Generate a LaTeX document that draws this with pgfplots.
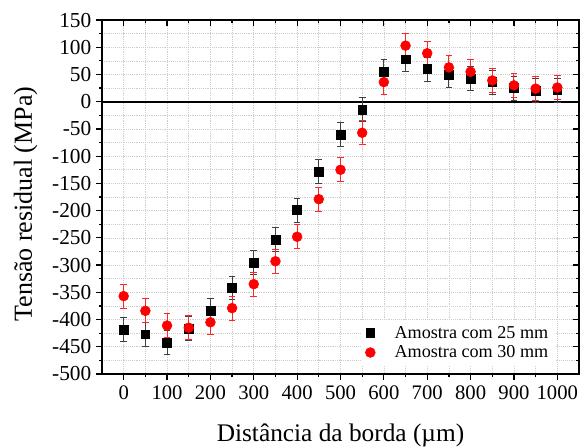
\documentclass[border=0pt]{standalone}
\usepackage{fontspec}
\setmainfont{Liberation Serif}
\usepackage{pgfplots}
\pgfplotsset{compat=1.18}
\definecolor{gridgray}{RGB}{205,205,205}

\pgfplotsset{
  common/.style={
    at={(0,0)}, anchor=south west,
    scale only axis,
    width=357.75pt, height=265.5pt,
    xmin=-50, xmax=1050, ymin=-500, ymax=150,
    xtick={0,100,...,1000}, ytick={-500,-450,...,150},
    minor x tick num=1, minor y tick num=1,
    major tick length=4.5pt, minor tick length=2.5pt,
    axis line style={black, line width=0.9pt},
    every tick/.style={black, line width=0.9pt},
  }
}

\begin{document}
\begin{tikzpicture}
\useasboundingbox (-76.5pt,-54.75pt) rectangle (362.25pt,280.5pt);
\begin{axis}[common,
  tick align=outside,
  xtick pos=bottom, ytick pos=left,
  grid=both,
  major grid style={gridgray, densely dotted, line width=0.5pt},
  minor grid style={gridgray, densely dotted, line width=0.5pt},
  /pgf/number format/assume math mode=true,
  /pgf/number format/1000 sep={},
  yticklabel style={font=\fontsize{16pt}{17pt}\selectfont, xshift=0pt},
  xticklabel style={font=\fontsize{15.5pt}{17pt}\selectfont, yshift=-1pt},
  xlabel={Distância da borda (µm)},
  ylabel={Tensão residual (MPa)},
  xlabel style={font=\fontsize{19pt}{21pt}\selectfont,
    at={(axis description cs:0.5,-0.192)}, anchor=base},
  ylabel style={font=\fontsize{19.5pt}{21pt}\selectfont,
    at={(axis description cs:-0.16,0.48)}, anchor=center, rotate=0},
  legend style={at={(axis description cs:0.95,0.151)}, anchor=north east,
    draw=none, fill=white,
    font=\fontsize{13.6pt}{16pt}\selectfont, row sep=0pt,
    inner xsep=3pt, inner ysep=2pt},
  legend cell align=left,
]
\addplot[black, line width=1.2pt, forget plot] coordinates {(-50,0) (1050,0)};

\addplot[only marks, mark=square*, mark size=3.3pt, black,
  error bars/.cd, y dir=both, y explicit,
  error bar style={black!75, line width=0.7pt},
  error mark options={rotate=90, mark size=2.5pt, black!75, line width=0.7pt}]
  coordinates {
  (0,-419) +- (0,22)
  (50,-427) +- (0,22)
  (100,-442) +- (0,22)
  (150,-417) +- (0,22)
  (200,-384) +- (0,22)
  (250,-342) +- (0,22)
  (300,-296) +- (0,22)
  (350,-253) +- (0,22)
  (400,-199) +- (0,22)
  (450,-128) +- (0,22)
  (500,-60) +- (0,22)
  (550,-15) +- (0,22)
  (600,55) +- (0,22)
  (650,78) +- (0,22)
  (700,60) +- (0,22)
  (750,49) +- (0,22)
  (800,42) +- (0,22)
  (850,36) +- (0,22)
  (900,25) +- (0,22)
  (950,20) +- (0,22)
  (1000,21) +- (0,22)
  };
\addlegendentry{\hspace{12.5pt}Amostra com 25 mm}

\addplot[only marks, mark=*, mark size=3.7pt, red,
  error bars/.cd, y dir=both, y explicit,
  error bar style={red!85, line width=0.7pt},
  error mark options={rotate=90, mark size=2.5pt, red!85, line width=0.7pt}]
  coordinates {
  (0,-357) +- (0,22)
  (50,-384) +- (0,22)
  (100,-411) +- (0,22)
  (150,-415) +- (0,22)
  (200,-405) +- (0,22)
  (250,-379) +- (0,22)
  (300,-335) +- (0,22)
  (350,-293) +- (0,22)
  (400,-248) +- (0,22)
  (450,-179) +- (0,22)
  (500,-125) +- (0,22)
  (550,-57) +- (0,22)
  (600,36) +- (0,22)
  (650,103) +- (0,22)
  (700,89) +- (0,22)
  (750,63) +- (0,22)
  (800,55) +- (0,22)
  (850,39) +- (0,22)
  (900,30) +- (0,22)
  (950,24) +- (0,22)
  (1000,26) +- (0,22)
  };
\addlegendentry{\hspace{12.5pt}Amostra com 30 mm}
\end{axis}

% mirrored ticks on top and right, pointing inward
\begin{axis}[common,
  tick align=inside,
  xtick pos=top, ytick pos=right,
  xticklabels={}, yticklabels={},
]
\end{axis}
\end{tikzpicture}
\end{document}
